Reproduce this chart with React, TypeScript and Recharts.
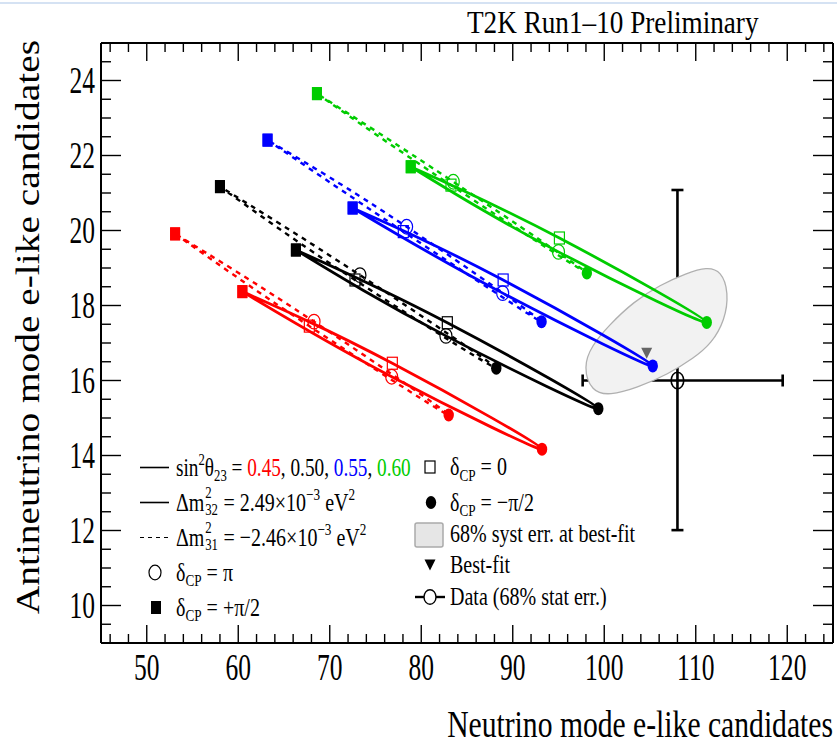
import React from "react";
import { ComposedChart, Scatter, XAxis, YAxis, ErrorBar } from "recharts";

const W = 837;
const H = 744;
const FONT = '"Liberation Serif", "Times New Roman", Times, serif';

const RED = "#ff0000";
const BLACK = "#000000";
const BLUE = "#0000ff";
const GREEN = "#00cc00";

// axis ticks
const xMajor = [50, 60, 70, 80, 90, 100, 110, 120];
const yMajor = [10, 12, 14, 16, 18, 20, 22, 24];
const xTicks = Array.from({ length: 40 }, (_, i) => 46 + 2 * i);
const yTicks = Array.from({ length: 31 }, (_, i) => 9.5 + 0.5 * i);

// δCP order of the points on each contour
const deltaOrder = ["+pi/2", "0", "-pi/2", "pi"];

// normal ordering (solid), Δm²32 = 2.49e-3
const red45NO = [[60.45, 18.37], [76.84, 16.46], [93.2, 14.17], [76.77, 16.1]];
const black50NO = [[66.3, 19.48], [82.85, 17.54], [99.35, 15.25], [82.7, 17.19]];
const blue55NO = [[72.5, 20.6], [88.95, 18.68], [105.3, 16.39], [88.9, 18.33]];
const green60NO = [[78.85, 21.7], [95.1, 19.8], [111.2, 17.55], [95.0, 19.43]];

// inverted ordering (dashed), Δm²31 = -2.46e-3
const red45IO = [[53.1, 19.91], [67.77, 17.45], [83.0, 15.08], [68.28, 17.57]];
const black50IO = [[58.0, 21.17], [72.76, 18.68], [88.2, 16.33], [73.3, 18.81]];
const blue55IO = [[63.2, 22.41], [78.04, 19.97], [93.15, 17.57], [78.4, 20.1]];
const green60IO = [[68.6, 23.65], [83.25, 21.21], [98.1, 18.87], [83.5, 21.3]];

// 68% syst. error contour around the best fit
const systContour = [
  [97.7, 16.37], [98.6, 15.7], [100.6, 15.6], [103.55, 15.8], [107.0, 16.17],
  [109.8, 16.6], [111.7, 16.98], [113.2, 17.61], [113.6, 18.35], [112.8, 18.92],
  [111.2, 19.03], [109.0, 18.86], [106.1, 18.55], [103.2, 18.1], [100.5, 17.47],
  [98.6, 16.92],
];

const bestFit = [{ x: 104.64, y: 16.73 }];
const observed = [{ x: 108, y: 16, ex: [10.36, 11.5], ey: [3.99, 5.08] }];

const contour = (pts: number[][]) => {
  const rows = pts.map(([x, y], i) => ({ x, y, d: deltaOrder[i] }));
  return [...rows, rows[0]];
};

const series = [
  { key: "r-io", color: RED, dashed: true, pts: red45IO },
  { key: "k-io", color: BLACK, dashed: true, pts: black50IO },
  { key: "b-io", color: BLUE, dashed: true, pts: blue55IO },
  { key: "g-io", color: GREEN, dashed: true, pts: green60IO },
  { key: "r-no", color: RED, dashed: false, pts: red45NO },
  { key: "k-no", color: BLACK, dashed: false, pts: black50NO },
  { key: "b-no", color: BLUE, dashed: false, pts: blue55NO },
  { key: "g-no", color: GREEN, dashed: false, pts: green60NO },
];

function Marker(props: any) {
  const { cx, cy, payload, color } = props;
  if (cx == null || cy == null) return <g />;
  switch (payload.d) {
    case "+pi/2":
      return <rect x={cx - 5} y={cy - 6.5} width={10} height={13} fill={color} />;
    case "-pi/2":
      return <ellipse cx={cx} cy={cy} rx={5.2} ry={6.5} fill={color} />;
    case "0":
      return <rect x={cx - 5} y={cy - 6} width={10} height={12} fill="none" stroke={color} strokeWidth={1.2} />;
    default:
      return <ellipse cx={cx} cy={cy} rx={6} ry={7.3} fill="none" stroke={color} strokeWidth={1.2} />;
  }
}

const tickText = (x: number, y: number, v: number, anchor: string) => (
  <text
    transform={`translate(${x},${y}) scale(0.69,1)`}
    textAnchor={anchor}
    fontFamily={FONT}
    fontSize={37}
    fill="#000"
  >
    {v}
  </text>
);

function BottomTick(p: any) {
  const major = xMajor.includes(p.payload.value);
  return (
    <g>
      <line x1={p.x} x2={p.x} y1={p.y} y2={p.y - (major ? 18 : 9)} stroke="#000" strokeWidth={1.4} />
      {major && tickText(p.x, p.y + 37, p.payload.value, "middle")}
    </g>
  );
}

function TopTick(p: any) {
  const major = xMajor.includes(p.payload.value);
  return <line x1={p.x} x2={p.x} y1={p.y} y2={p.y + (major ? 18 : 9)} stroke="#000" strokeWidth={1.4} />;
}

function LeftTick(p: any) {
  const major = yMajor.includes(p.payload.value);
  return (
    <g>
      <line x1={p.x} x2={p.x + (major ? 20 : 10)} y1={p.y} y2={p.y} stroke="#000" strokeWidth={1.4} />
      {major && tickText(p.x - 6, p.y + 12.5, p.payload.value, "end")}
    </g>
  );
}

function RightTick(p: any) {
  const major = yMajor.includes(p.payload.value);
  return <line x1={p.x} x2={p.x - (major ? 20 : 10)} y1={p.y} y2={p.y} stroke="#000" strokeWidth={1.4} />;
}

const LF = 26;
const Sup = ({ children }: any) => (
  <span style={{ fontSize: LF * 0.66, position: "relative", top: -LF * 0.42, lineHeight: 0 }}>{children}</span>
);
const Sub = ({ children }: any) => (
  <span style={{ fontSize: LF * 0.66, position: "relative", top: LF * 0.22, lineHeight: 0 }}>{children}</span>
);
const Stack = ({ sup, sub }: any) => (
  <span style={{ position: "relative", display: "inline-block", width: LF * 0.7, height: 0 }}>
    <span style={{ position: "absolute", left: 1, top: -LF * 1.0, fontSize: LF * 0.64, lineHeight: 1 }}>{sup}</span>
    <span style={{ position: "absolute", left: 1, top: -LF * 0.33, fontSize: LF * 0.64, lineHeight: 1 }}>{sub}</span>
  </span>
);

function Row({ x, y, k = 0.77, children }: any) {
  return (
    <div
      style={{
        position: "absolute",
        left: x,
        top: y - LF / 2,
        height: LF,
        lineHeight: `${LF}px`,
        fontSize: LF,
        whiteSpace: "nowrap",
        transform: `scaleX(${k})`,
        transformOrigin: "0 50%",
      }}
    >
      {children}
    </div>
  );
}

const axisLine = { stroke: "#000", strokeWidth: 2 };

export default function App() {
  return (
    <div style={{ position: "absolute", left: 0, top: 0, width: W, height: H, background: "#fff", overflow: "hidden", fontFamily: FONT }}>
      <div style={{ position: "absolute", left: 0, top: 2, width: W, height: 2, background: "#d5e2f3" }} />
      <ComposedChart width={W} height={H} margin={{ top: 33, right: 2, bottom: 41, left: 41 }}>
        <XAxis xAxisId="b" dataKey="x" type="number" domain={[45, 125]} ticks={xTicks} interval={0}
          tickSize={0} tickMargin={0} tickLine={false} axisLine={axisLine} tick={<BottomTick />} height={60} allowDataOverflow />
        <XAxis xAxisId="t" orientation="top" dataKey="x" type="number" domain={[45, 125]} ticks={xTicks} interval={0}
          tickSize={0} tickMargin={0} tickLine={false} axisLine={axisLine} tick={<TopTick />} height={10} allowDataOverflow />
        <YAxis yAxisId="l" dataKey="y" type="number" domain={[9, 25]} ticks={yTicks} interval={0}
          tickSize={0} tickMargin={0} tickLine={false} axisLine={axisLine} tick={<LeftTick />} width={60} allowDataOverflow />
        <YAxis yAxisId="r" orientation="right" dataKey="y" type="number" domain={[9, 25]} ticks={yTicks} interval={0}
          tickSize={0} tickMargin={0} tickLine={false} axisLine={axisLine} tick={<RightTick />} width={2} allowDataOverflow />

        <Scatter
          xAxisId="b" yAxisId="l"
          data={systContour.map(([x, y]) => ({ x, y }))}
          line={{ stroke: "#b0b0b0", strokeWidth: 1.3, fill: "#f2f2f2" }}
          lineJointType="basisClosed"
          shape={() => <g />}
          isAnimationActive={false}
        />

        {series.map((s) => (
          <Scatter
            key={s.key}
            xAxisId="b" yAxisId="l"
            data={contour(s.pts)}
            line={{ stroke: s.color, strokeWidth: s.dashed ? 2.4 : 2.8, strokeDasharray: s.dashed ? "5 5" : undefined }}
            lineJointType="natural"
            shape={(p: any) => <Marker {...p} color={s.color} />}
            isAnimationActive={false}
          />
        ))}

        <Scatter
          xAxisId="b" yAxisId="l"
          data={bestFit}
          shape={(p: any) => (
            <polygon points={`${p.cx - 5.5},${p.cy - 5.5} ${p.cx + 5.5},${p.cy - 5.5} ${p.cx},${p.cy + 5.5}`} fill="#666666" />
          )}
          isAnimationActive={false}
        />

        <Scatter
          xAxisId="b" yAxisId="l"
          data={observed}
          shape={(p: any) => <ellipse cx={p.cx} cy={p.cy} rx={6.3} ry={8.3} fill="none" stroke="#000" strokeWidth={1.6} />}
          isAnimationActive={false}
        >
          <ErrorBar dataKey="ex" direction="x" width={6} stroke="#000" strokeWidth={2.6} />
          <ErrorBar dataKey="ey" direction="y" width={6} stroke="#000" strokeWidth={2.6} />
        </Scatter>
      </ComposedChart>

      <svg width={W} height={H} style={{ position: "absolute", left: 0, top: 0, pointerEvents: "none" }}>
        <text transform="translate(467,33) scale(0.85,1)" fontFamily={FONT} fontSize={32} fill="#000">
          T2K Run1–10 Preliminary
        </text>
        <text transform="translate(833,737) scale(0.78,1)" textAnchor="end" fontFamily={FONT} fontSize={38} fill="#000">
          Neutrino mode e-like candidates
        </text>
        <text transform="translate(39,40) rotate(-90) scale(1.01,0.86)" textAnchor="end" fontFamily={FONT} fontSize={39} fill="#000">
          Antineutrino mode e-like candidates
        </text>

        {/* legend symbols */}
        <line x1={140} x2={169} y1={467.5} y2={467.5} stroke="#000" strokeWidth={1.6} />
        <line x1={140} x2={169} y1={502.5} y2={502.5} stroke="#000" strokeWidth={1.6} />
        <line x1={140} x2={169} y1={537.5} y2={537.5} stroke="#000" strokeWidth={1.2} strokeDasharray="4 4" />
        <ellipse cx={155} cy={572.5} rx={6} ry={7.3} fill="none" stroke="#000" strokeWidth={1.2} />
        <rect x={151} y={601} width={10} height={13} fill="#000" />
        <rect x={425} y={461} width={10} height={12} fill="none" stroke="#000" strokeWidth={1.2} />
        <ellipse cx={431} cy={502.5} rx={5.2} ry={6.5} fill="#000" />
        <rect x={415} y={523} width={28} height={24} rx={2} fill="#e6e6e6" stroke="#aaaaaa" strokeWidth={1.5} />
        <polygon points="424.5,559.5 435.5,559.5 430,570.5" fill="#000" />
        <line x1={415} x2={445} y1={597} y2={597} stroke="#000" strokeWidth={2.4} />
        <ellipse cx={430} cy={597} rx={6} ry={7.3} fill="#fff" stroke="#000" strokeWidth={1.4} />
      </svg>

      <Row x={176} y={467.5} k={0.74}>
        sin<Sup>2</Sup>θ<Sub>23</Sub> = <span style={{ color: RED }}>0.45</span>, 0.50,{" "}
        <span style={{ color: BLUE }}>0.55</span>, <span style={{ color: GREEN }}>0.60</span>
      </Row>
      <Row x={176} y={502.5}>
        Δm<Stack sup="2" sub="32" /> = 2.49×10<Sup>−3</Sup> eV<Sup>2</Sup>
      </Row>
      <Row x={176} y={537.5}>
        Δm<Stack sup="2" sub="31" /> = −2.46×10<Sup>−3</Sup> eV<Sup>2</Sup>
      </Row>
      <Row x={176} y={572.5}>
        δ<Sub>CP</Sub> = π
      </Row>
      <Row x={176} y={607.5}>
        δ<Sub>CP</Sub> = +π/2
      </Row>
      <Row x={450} y={467}>
        δ<Sub>CP</Sub> = 0
      </Row>
      <Row x={450} y={502.5}>
        δ<Sub>CP</Sub> = −π/2
      </Row>
      <Row x={450} y={534}>
        68% syst err. at best-fit
      </Row>
      <Row x={450} y={565}>
        Best-fit
      </Row>
      <Row x={450} y={597}>
        Data (68% stat err.)
      </Row>
    </div>
  );
}
